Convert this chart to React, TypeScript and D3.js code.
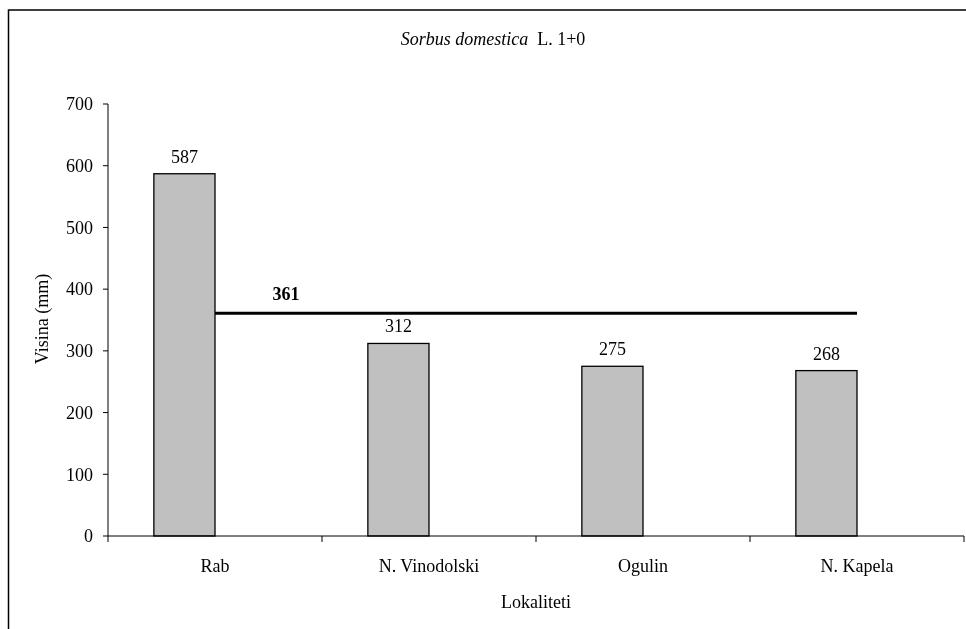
import React, { useEffect, useRef } from "react";
import * as d3 from "d3";

const categories: string[] = ["Rab", "N. Vinodolski", "Ogulin", "N. Kapela"];
const heights: number[] = [587, 312, 275, 268];
const meanValue = 361;
const yTicks: number[] = [0, 100, 200, 300, 400, 500, 600, 700];

const App: React.FC = () => {
  const svgRef = useRef<SVGSVGElement | null>(null);

  useEffect(() => {
    if (!svgRef.current) return;
    const svg = d3.select(svgRef.current);
    svg.selectAll("*").remove();
    const font = "'Liberation Serif', 'Times New Roman', serif";

    const left = 108;
    const right = 964;
    const top = 104;
    const bottom = 536;

    // outer frame, runs off the picture at right and bottom
    svg
      .append("rect")
      .attr("x", 8.5)
      .attr("y", 10)
      .attr("width", 1200)
      .attr("height", 900)
      .attr("fill", "none")
      .attr("stroke", "#000")
      .attr("stroke-width", 1.5);

    const x = d3.scaleBand<string>().domain(categories).range([left, right]);
    const y = d3.scaleLinear().domain([0, 700]).range([bottom, top]);
    const barW = x.bandwidth() / 3.5;
    const center = (c: string) => x(c)! + x.bandwidth() / 2;

    // bars
    svg
      .selectAll(".bar")
      .data(categories)
      .enter()
      .append("rect")
      .attr("class", "bar")
      .attr("x", (c) => center(c) - barW)
      .attr("y", (c, i) => y(heights[i]))
      .attr("width", barW)
      .attr("height", (c, i) => bottom - y(heights[i]))
      .attr("fill", "#c0c0c0")
      .attr("stroke", "#000")
      .attr("stroke-width", 1.3);

    // value labels
    svg
      .selectAll(".val")
      .data(categories)
      .enter()
      .append("text")
      .attr("x", (c) => center(c) - barW / 2)
      .attr("y", (c, i) => y(heights[i]) - 11)
      .attr("text-anchor", "middle")
      .attr("font-family", font)
      .attr("font-size", 18)
      .text((c, i) => heights[i]);

    // mean line
    svg
      .append("line")
      .attr("x1", center(categories[0]))
      .attr("x2", center(categories[categories.length - 1]))
      .attr("y1", y(meanValue))
      .attr("y2", y(meanValue))
      .attr("stroke", "#000")
      .attr("stroke-width", 3);
    svg
      .append("text")
      .attr("x", 286)
      .attr("y", y(meanValue) - 13)
      .attr("text-anchor", "middle")
      .attr("font-family", font)
      .attr("font-weight", "bold")
      .attr("font-size", 18)
      .text(meanValue);

    // y axis
    const yAxis = svg.append("g");
    yAxis
      .append("line")
      .attr("x1", left)
      .attr("x2", left)
      .attr("y1", top)
      .attr("y2", bottom)
      .attr("stroke", "#000");
    yTicks.forEach((t) => {
      yAxis
        .append("line")
        .attr("x1", left - 5)
        .attr("x2", left)
        .attr("y1", y(t))
        .attr("y2", y(t))
        .attr("stroke", "#000");
      yAxis
        .append("text")
        .attr("x", 93)
        .attr("y", y(t))
        .attr("dy", "0.35em")
        .attr("text-anchor", "end")
        .attr("font-family", font)
        .attr("font-size", 18)
        .text(t);
    });

    // x axis
    const xAxis = svg.append("g");
    xAxis
      .append("line")
      .attr("x1", left)
      .attr("x2", right)
      .attr("y1", bottom)
      .attr("y2", bottom)
      .attr("stroke", "#000");
    const bounds = categories.map((c) => x(c)!).concat([right]);
    bounds.forEach((b) => {
      xAxis
        .append("line")
        .attr("x1", b)
        .attr("x2", b)
        .attr("y1", bottom)
        .attr("y2", bottom + 6)
        .attr("stroke", "#000");
    });
    categories.forEach((c) => {
      xAxis
        .append("text")
        .attr("x", center(c))
        .attr("y", 572)
        .attr("text-anchor", "middle")
        .attr("font-family", font)
        .attr("font-size", 18)
        .text(c);
    });

    // axis titles
    svg
      .append("text")
      .attr("x", 536)
      .attr("y", 608)
      .attr("text-anchor", "middle")
      .attr("font-family", font)
      .attr("font-size", 18)
      .text("Lokaliteti");
    svg
      .append("text")
      .attr("transform", `translate(48, 319) rotate(-90)`)
      .attr("text-anchor", "middle")
      .attr("font-family", font)
      .attr("font-size", 18)
      .text("Visina (mm)");

    // chart title
    const title = svg
      .append("text")
      .attr("x", 493)
      .attr("y", 45)
      .attr("text-anchor", "middle")
      .attr("font-family", font)
      .attr("font-size", 18);
    title.append("tspan").attr("font-style", "italic").text("Sorbus domestica");
    title.append("tspan").attr("xml:space", "preserve").text("\u00a0 L. 1+0");
  }, []);

  return (
    <div style={{ position: "fixed", left: 0, top: 0 }}>
      <svg ref={svgRef} width={966} height={629} style={{ display: "block" }} />
    </div>
  );
};

export default App;
